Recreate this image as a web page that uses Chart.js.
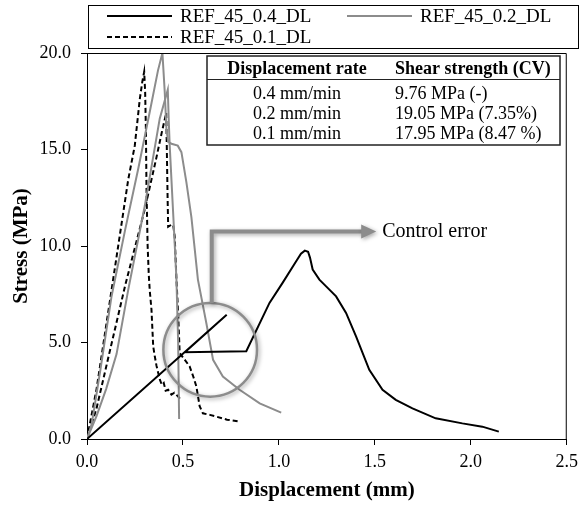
<!DOCTYPE html>
<html>
<head>
<meta charset="utf-8">
<script src="https://cdn.jsdelivr.net/npm/chart.js@4.4.0/dist/chart.umd.min.js"></script>
<style>
  body { margin: 0; background: #fff; }
  #wrap { width: 584px; height: 506px; }
</style>
</head>
<body>
<div id="wrap"><canvas id="chart" width="584" height="506"></canvas></div>
<script>
const seriesNames = ['REF_45_0.4_DL', 'REF_45_0.2_DL', 'REF_45_0.1_DL'];

// 0.4 mm/min (one specimen, with the control error jump)
const ref04X = [0, 0.728, 0.51, 0.83, 0.951, 1.02, 1.09, 1.115, 1.135, 1.152, 1.162, 1.176, 1.211, 1.246, 1.298, 1.35, 1.402, 1.471, 1.54, 1.609, 1.696, 1.817, 1.956, 2.06, 2.146];
const ref04Y = [0, 6.44, 4.5, 4.55, 7.05, 8.1, 9.21, 9.6, 9.76, 9.7, 9.4, 8.78, 8.26, 7.91, 7.39, 6.53, 5.32, 3.58, 2.55, 2.03, 1.59, 1.07, 0.81, 0.64, 0.38];

// 0.2 mm/min, specimen A and B
const ref02aX = [0, 0.025, 0.07, 0.128, 0.2, 0.267, 0.33, 0.37, 0.393, 0.405, 0.414, 0.423, 0.44, 0.473, 0.492, 0.518, 0.544, 0.578, 0.622, 0.657, 0.708, 0.795, 0.9, 1.012];
const ref02aY = [0, 0.8, 3.6, 7.4, 10.9, 14.0, 17.1, 19.1, 20.0, 18.0, 16.05, 15.4, 15.3, 15.2, 14.86, 13.3, 11.5, 8.26, 6.0, 4.1, 3.24, 2.55, 1.85, 1.37];
const ref02bX = [0, 0.05, 0.1, 0.154, 0.215, 0.301, 0.379, 0.421, 0.426, 0.431, 0.45, 0.466, 0.475, 0.48];
const ref02bY = [0, 1.2, 2.6, 4.4, 7.74, 12.07, 16.6, 18.1, 16.5, 15.2, 11.5, 8.3, 5.0, 1.04];

// 0.1 mm/min, specimen A and B
const ref01aX = [0, 0.05, 0.12, 0.215, 0.249, 0.275, 0.288, 0.298, 0.303, 0.307, 0.31, 0.316, 0.322, 0.327, 0.336, 0.345, 0.353, 0.362, 0.379, 0.39, 0.40, 0.41, 0.423, 0.44, 0.455, 0.475, 0.492];
const ref01aY = [0, 2.6, 7.2, 13.45, 15.2, 17.6, 18.5, 19.03, 18.0, 16.0, 13.0, 10.0, 8.5, 7.7, 6.7, 4.8, 4.3, 3.8, 3.1, 2.8, 2.9, 2.5, 2.55, 2.3, 2.4, 2.2, 2.0];
const ref01bX = [0, 0.05, 0.12, 0.2, 0.301, 0.36, 0.39, 0.413, 0.416, 0.42, 0.423, 0.44, 0.449, 0.457, 0.466, 0.475, 0.483, 0.51, 0.535, 0.555, 0.57, 0.587, 0.604, 0.64, 0.674, 0.73, 0.795];
const ref01bY = [0, 1.6, 4.6, 8.0, 11.9, 14.5, 15.9, 16.9, 15.0, 12.5, 11.0, 11.1, 11.1, 10.5, 8.3, 6.5, 4.45, 4.1, 3.76, 3.2, 2.72, 1.7, 1.33, 1.25, 1.16, 1.0, 0.9];

const xTicks = [0, 0.5, 1.0, 1.5, 2.0, 2.5];
const yTicks = [0, 5, 10, 15, 20];

const tableHead = ['Displacement rate', 'Shear strength (CV)'];
const tableRates = ['0.4 mm/min', '0.2 mm/min', '0.1 mm/min'];
const tableStrength = ['9.76 MPa (-)', '19.05 MPa (7.35%)', '17.95 MPa (8.47 %)'];
const noteText = 'Control error';

const serif = "'Liberation Serif', 'Times New Roman', serif";
const gray = '#8c8c8c';

function zip(xs, ys) {
  return xs.map((x, i) => ({ x: x, y: ys[i] }));
}

function line(label, xs, ys, color, dash) {
  return {
    label: label,
    data: zip(xs, ys),
    borderColor: color,
    borderWidth: 2,
    borderDash: dash,
    pointRadius: 0,
    tension: 0,
    fill: false
  };
}

const datasets = [
  line(seriesNames[0], ref04X, ref04Y, '#000', []),
  line(seriesNames[1], ref02aX, ref02aY, gray, []),
  line(seriesNames[1], ref02bX, ref02bY, gray, []),
  line(seriesNames[2], ref01aX, ref01aY, '#000', [5, 3]),
  line(seriesNames[2], ref01bX, ref01bY, '#000', [5, 3])
];

// legend drawn by hand inside a framed box above the plot
const legendPlugin = {
  id: 'boxLegend',
  afterDraw(chart) {
    const ctx = chart.ctx;
    const sets = chart.data.datasets;
    const entries = [sets[0], sets[1], sets[3]];
    const slots = [[107, 16], [347, 16], [107, 37]];
    ctx.save();
    ctx.strokeStyle = '#000';
    ctx.lineWidth = 1;
    ctx.strokeRect(88.5, 5.5, 490, 43);
    ctx.font = '19px ' + serif;
    ctx.textBaseline = 'middle';
    ctx.fillStyle = '#000';
    entries.forEach((ds, i) => {
      const [lx, ly] = slots[i];
      ctx.beginPath();
      ctx.setLineDash(ds.borderDash);
      ctx.strokeStyle = ds.borderColor;
      ctx.lineWidth = 2;
      ctx.moveTo(lx, ly);
      ctx.lineTo(lx + 65, ly);
      ctx.stroke();
      ctx.setLineDash([]);
      ctx.fillText(ds.label, lx + 73, ly + 1);
    });
    ctx.restore();
  }
};

const framePlugin = {
  id: 'frame',
  afterDraw(chart) {
    const { ctx, chartArea: a } = chart;
    ctx.save();
    ctx.strokeStyle = '#000';
    ctx.lineWidth = 1;
    ctx.beginPath();
    ctx.moveTo(a.left, a.top + 0.5);
    ctx.lineTo(a.right - 0.5, a.top + 0.5);
    ctx.lineTo(a.right - 0.5, a.bottom);
    ctx.stroke();

    // table with results
    const tx = 207, ty = 56, tw = 353, th = 89;
    ctx.fillStyle = '#fff';
    ctx.fillRect(tx, ty, tw, th);
    ctx.lineWidth = 1.5;
    ctx.strokeStyle = '#222';
    ctx.strokeRect(tx, ty, tw, th);
    ctx.lineWidth = 1;
    ctx.beginPath();
    ctx.moveTo(tx, ty + 23.5);
    ctx.lineTo(tx + tw, ty + 23.5);
    ctx.stroke();
    ctx.fillStyle = '#000';
    ctx.textBaseline = 'middle';
    ctx.font = 'bold 18px ' + serif;
    ctx.textAlign = 'center';
    ctx.fillText(tableHead[0], 297, ty + 13);
    ctx.textAlign = 'left';
    ctx.fillText(tableHead[1], 395, ty + 13);
    ctx.font = '18px ' + serif;
    tableRates.forEach((r, i) => {
      const yy = ty + 38 + i * 20;
      ctx.textAlign = 'center';
      ctx.fillText(r, 297, yy);
      ctx.textAlign = 'left';
      ctx.fillText(tableStrength[i], 395, yy);
    });
    ctx.restore();
  }
};

// circle and arrow marking the control error
const notePlugin = {
  id: 'note',
  afterDatasetsDraw(chart) {
    const { ctx, scales: { x, y } } = chart;
    const cx = x.getPixelForValue(0.642);
    const cy = y.getPixelForValue(4.62);
    const r = x.getPixelForValue(0.244) - x.getPixelForValue(0);
    const ax = x.getPixelForValue(0.65);
    const ay = y.getPixelForValue(10.75);
    const tip = x.getPixelForValue(1.507);
    ctx.save();
    ctx.shadowColor = 'rgba(0,0,0,0.35)';
    ctx.shadowBlur = 4;
    ctx.shadowOffsetX = 1.5;
    ctx.shadowOffsetY = 1.5;
    ctx.strokeStyle = gray;
    ctx.lineWidth = 2.5;
    ctx.beginPath();
    ctx.arc(cx, cy, r, 0, Math.PI * 2);
    ctx.stroke();
    ctx.lineWidth = 4;
    ctx.beginPath();
    ctx.moveTo(ax, cy - r);
    ctx.lineTo(ax, ay);
    ctx.lineTo(tip - 14, ay);
    ctx.stroke();
    ctx.fillStyle = gray;
    ctx.beginPath();
    ctx.moveTo(tip, ay);
    ctx.lineTo(tip - 15, ay - 7);
    ctx.lineTo(tip - 15, ay + 7);
    ctx.closePath();
    ctx.fill();
    ctx.restore();
    ctx.save();
    ctx.fillStyle = '#000';
    ctx.font = '20px ' + serif;
    ctx.textBaseline = 'middle';
    ctx.fillText(noteText, tip + 6, ay);
    ctx.restore();
  }
};

new Chart(document.getElementById('chart'), {
  type: 'line',
  data: { datasets: datasets },
  options: {
    responsive: false,
    animation: false,
    layout: { padding: { top: 53, right: 16, left: 0, bottom: 0 } },
    plugins: { legend: { display: false }, tooltip: { enabled: false } },
    scales: {
      x: {
        type: 'linear',
        min: 0,
        max: 2.5,
        afterBuildTicks: (s) => { s.ticks = xTicks.map(v => ({ value: v })); },
        afterFit: (s) => { s.height = 67; },
        grid: { drawOnChartArea: false, drawTicks: true, tickLength: 6, color: '#000' },
        border: { color: '#000', width: 1 },
        ticks: {
          color: '#000',
          padding: 6,
          font: { family: serif, size: 18 },
          callback: (v) => Number(v).toFixed(1)
        },
        title: {
          display: true,
          text: 'Displacement (mm)',
          color: '#000',
          font: { family: serif, size: 21, weight: 'bold' },
          padding: { top: 0, bottom: 3 }
        }
      },
      y: {
        type: 'linear',
        min: 0,
        max: 20,
        afterBuildTicks: (s) => { s.ticks = yTicks.map(v => ({ value: v })); },
        afterFit: (s) => { s.width = 87; },
        grid: { drawOnChartArea: false, drawTicks: true, tickLength: 6, color: '#000' },
        border: { color: '#000', width: 1 },
        ticks: {
          color: '#000',
          padding: 10,
          font: { family: serif, size: 18 },
          callback: (v) => Number(v).toFixed(1)
        },
        title: {
          display: true,
          text: 'Stress (MPa)',
          color: '#000',
          font: { family: serif, size: 21, weight: 'bold' },
          padding: { top: 9, bottom: 0 }
        }
      }
    }
  },
  plugins: [notePlugin, framePlugin, legendPlugin]
});
</script>
</body>
</html>
